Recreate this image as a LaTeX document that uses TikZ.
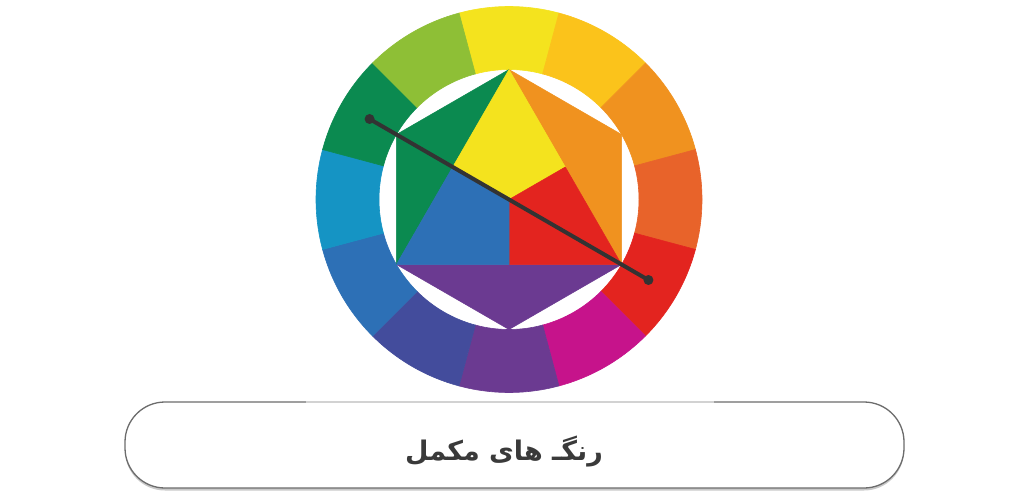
\documentclass[tikz,border=0pt]{standalone}
\usepackage{fontspec}
\usetikzlibrary{calc,shadows}
\newfontfamily\arabicfont[Script=Arabic]{DejaVu Sans}
\TeXXeTstate=1
\definecolor{cY}{HTML}{F4E31E}
\definecolor{cYO}{HTML}{FBC31B}
\definecolor{cO}{HTML}{F0921F}
\definecolor{cRO}{HTML}{E8632A}
\definecolor{cR}{HTML}{E3241F}
\definecolor{cM}{HTML}{C6138B}
\definecolor{cV}{HTML}{6B3A91}
\definecolor{cBV}{HTML}{434C9C}
\definecolor{cB}{HTML}{2D70B6}
\definecolor{cCB}{HTML}{1594C4}
\definecolor{cG}{HTML}{0B8A50}
\definecolor{cYG}{HTML}{8EBF36}
\definecolor{txt}{HTML}{3A3A3A}
\definecolor{lineC}{HTML}{333333}
\tikzset{
  seg/.style={fill=#1, draw=#1, line width=0.6pt},
  tri/.style={fill=#1, draw=#1, line width=0.5pt, line join=round},
  labelbox/.style={draw=gray!85!black, line width=1.3pt, fill=white, rounded corners=40pt,
     minimum width=779pt, minimum height=86pt, inner sep=0pt,
     drop shadow={shadow xshift=0pt, shadow yshift=-2.5pt, fill=gray!70, opacity=0.6}},
  labeltext/.style={font=\arabicfont\bfseries\fontsize{27}{32}\selectfont, text=txt, inner sep=0pt},
  dotend/.style={circle, fill=lineC, inner sep=0pt, minimum size=10pt}
}
\begin{document}
\begin{tikzpicture}[x=1pt,y=1pt]
\useasboundingbox[fill=white] (0,0) rectangle (1024,499);
\begin{scope}[shift={(509,299.5)}]
  % ring
  \foreach \a/\c in {90/cY,60/cYO,30/cO,0/cRO,-30/cR,-60/cM,-90/cV,-120/cBV,-150/cB,180/cCB,150/cG,120/cYG}{
    \filldraw[seg=\c] (\a-15:193) arc[start angle=\a-15, end angle=\a+15, radius=193]
       -- (\a+15:130) arc[start angle=\a+15, end angle=\a-15, radius=130] -- cycle;
  }
  % hexagon points
  \coordinate (T) at (90:130);
  \coordinate (UR) at (30:130);
  \coordinate (LR) at (-30:130);
  \coordinate (B) at (-90:130);
  \coordinate (LL) at (210:130);
  \coordinate (UL) at (150:130);
  \coordinate (O) at (0,0);
  \coordinate (ML) at ($(T)!0.5!(LL)$);
  \coordinate (MR) at ($(T)!0.5!(LR)$);
  \coordinate (MB) at ($(LL)!0.5!(LR)$);
  \filldraw[tri=cG] (T) -- (UL) -- (LL) -- cycle;
  \filldraw[tri=cO] (T) -- (UR) -- (LR) -- cycle;
  \filldraw[tri=cV] (LL) -- (B) -- (LR) -- cycle;
  \filldraw[tri=cY] (T) -- (MR) -- (O) -- (ML) -- cycle;
  \filldraw[tri=cR] (MR) -- (LR) -- (MB) -- (O) -- cycle;
  \filldraw[tri=cB] (ML) -- (O) -- (MB) -- (LL) -- cycle;
  % complementary line
  \node[dotend] (d1) at (150:161) {};
  \node[dotend] (d2) at (-30:161) {};
  \draw[lineC, line width=4pt, line cap=round] (d1.center) -- (d2.center);
\end{scope}
% label box
\node[labelbox] (box) at (514.5,54) {};
\draw[gray!35, line width=1.4pt] (306,97) -- (714,97);
\node[labeltext] (title) at (504,47) {\beginR رنگـ های مکمل\endR};
\end{tikzpicture}
\end{document}
